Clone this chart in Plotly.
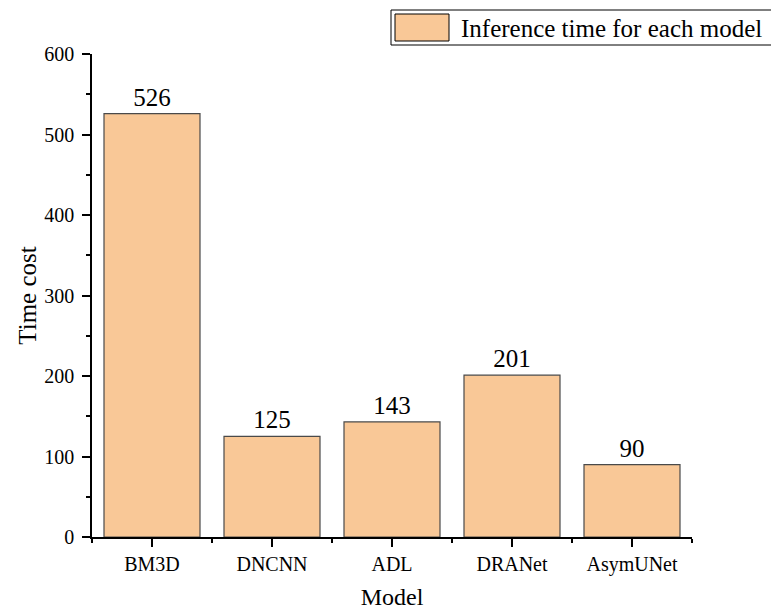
import plotly.graph_objects as go

models = ["BM3D", "DNCNN", "ADL", "DRANet", "AsymUNet"]
times = [526, 125, 143, 201, 90]
legend_name = "Inference time for each model"

xpos = list(range(len(models)))
font = "Liberation Serif, Times New Roman, serif"
bar_color = "#F9C897"
edge = "#4a4a4a"

# page has an 8px body margin, so figure sits at (8, 8)
OFF = 8
L, T, PW, PH = 92 - OFF, 54 - OFF, 600, 483
W, H = 779 - OFF, 610 - OFF

def px_x(x):
    return (x - OFF - L) / PW

def px_y(y):
    return 1 - (y - OFF - T) / PH

fig = go.Figure()
fig.add_trace(go.Bar(
    x=xpos, y=times, width=0.8,
    marker=dict(color=bar_color, line=dict(color=edge, width=1.2)),
    text=[str(v) for v in times], textposition="outside",
    textfont=dict(family=font, size=25, color="black"),
    cliponaxis=False, name=legend_name, showlegend=False,
))

fig.update_layout(
    width=W, height=H,
    margin=dict(l=L, r=W - L - PW, t=T, b=H - T - PH, autoexpand=False),
    paper_bgcolor="white", plot_bgcolor="white",
    font=dict(family=font, color="black"),
    xaxis=dict(
        range=[-0.5, 4.5], tickvals=xpos, ticktext=models, automargin=False,
        showgrid=False, zeroline=False, showline=True, linecolor="black", linewidth=1.5,
        ticks="outside", ticklen=8, tickwidth=1.5, tickcolor="black",
        tickfont=dict(family=font, size=20),
        minor=dict(tickvals=[-0.5, 0.5, 1.5, 2.5, 3.5, 4.5], ticks="outside", ticklen=4,
                   tickwidth=1.5, tickcolor="black", showgrid=False),
        title=dict(text="Model", font=dict(family=font, size=24), standoff=20),
    ),
    yaxis=dict(
        range=[0, 600], tickvals=[0, 100, 200, 300, 400, 500, 600], automargin=False,
        showgrid=False, zeroline=False, showline=True, linecolor="black", linewidth=1.5,
        ticks="outside", ticklen=8, tickwidth=1.5, tickcolor="black",
        tickfont=dict(family=font, size=20), ticklabelstandoff=4,
        minor=dict(dtick=50, tick0=0, ticks="outside", ticklen=4, tickwidth=1.5,
                   tickcolor="black", showgrid=False),
        title=dict(text="Time cost", font=dict(family=font, size=25), standoff=1),
    ),
)

# Legend drawn as a box in paper space
fig.add_shape(type="rect", xref="paper", yref="paper",
              x0=px_x(391), x1=px_x(778), y0=px_y(45), y1=px_y(10),
              line=dict(color="black", width=1), fillcolor="white")
fig.add_shape(type="rect", xref="paper", yref="paper",
              x0=px_x(395), x1=px_x(449), y0=px_y(41), y1=px_y(14),
              line=dict(color="black", width=1), fillcolor=bar_color)
fig.add_annotation(xref="paper", yref="paper",
                   x=px_x(459), y=px_y(28),
                   xanchor="left", yanchor="middle", showarrow=False,
                   text=legend_name, font=dict(family=font, size=25, color="black"))

fig.write_html("out.html")
